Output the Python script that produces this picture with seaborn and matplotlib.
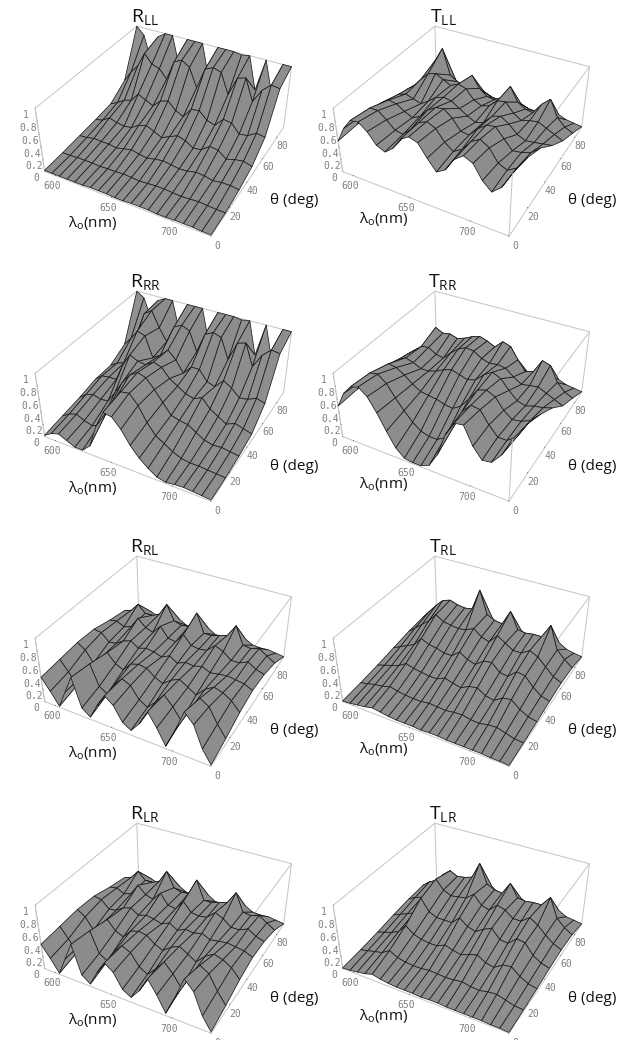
import matplotlib
matplotlib.use("Agg")
import matplotlib.pyplot as plt
import seaborn as sns
import numpy as np
from matplotlib.colors import LightSource

# =========================
# Data (percent)
# rows: theta, columns: wavelength
# =========================
wavelength = [590, 597, 604, 611, 618, 625, 632, 639, 646, 653, 660,
              667, 674, 681, 688, 695, 702, 709, 716, 723, 730]
theta = [0, 15, 30, 45, 60, 75, 90]

R_LL = [[2,2,2,2,2,2,3,3,3,2,2,3,3,3,2,2,3,3,3,2,2],
        [3,3,4,4,4,3,4,4,5,4,3,4,5,5,4,3,4,5,4,3,3],
        [5,6,9,8,8,6,9,12,9,7,10,12,10,8,9,12,11,8,10,10,8],
        [7,10,18,14,12,14,22,26,20,14,20,26,22,14,16,26,24,14,18,20,16],
        [10,16,24,28,42,36,30,42,46,34,28,44,46,34,30,44,42,28,30,38,36],
        [28,46,60,84,70,66,52,84,90,82,52,86,92,88,56,86,90,56,78,90,88],
        [100,88,46,92,100,100,48,100,100,100,44,100,100,100,98,100,48,100,52,100,100]]

R_RR = [[2,10,14,8,2,2,14,50,76,74,60,40,25,14,5,2,4,5,4,3,2],
        [6,14,18,12,8,14,38,60,80,82,68,46,30,22,14,8,6,6,5,4,3],
        [10,20,24,20,22,40,60,76,84,80,66,50,34,30,28,20,12,9,10,8,6],
        [16,26,28,28,56,76,70,68,76,72,58,50,42,38,44,30,22,14,20,16,12],
        [16,24,28,50,88,84,52,60,72,60,42,56,56,40,36,50,42,30,32,38,34],
        [30,44,60,92,100,76,56,84,90,84,54,86,92,88,56,86,90,56,78,90,88],
        [100,92,60,94,100,100,50,100,100,100,46,100,100,100,98,100,48,100,52,100,100]]

R_RL = [[40,22,2,30,58,14,4,28,48,38,16,8,24,48,28,4,34,68,54,22,2],
        [42,26,8,30,52,20,12,32,46,40,22,14,28,44,30,12,36,58,50,28,10],
        [44,36,18,30,44,30,24,38,42,40,30,24,34,40,32,24,38,46,42,34,20],
        [42,40,28,30,38,42,34,38,36,32,38,30,36,34,38,32,34,36,34,32,26],
        [34,36,30,34,52,40,36,50,34,32,48,34,32,34,46,40,30,30,36,28,24],
        [28,32,46,34,34,40,60,36,32,34,60,30,30,34,38,58,30,28,32,24,16],
        [3,4,10,5,5,6,12,5,5,5,12,4,4,5,5,12,5,4,5,3,1]]

# looks the same as R_RL at this resolution
R_LR = R_RL

T_LL = [[50,74,90,92,82,66,60,70,88,96,92,74,58,66,86,96,90,70,58,70,95],
        [50,70,84,84,74,62,60,72,86,92,86,70,60,68,84,92,84,66,60,68,88],
        [46,64,72,70,62,56,62,76,84,86,76,60,58,72,82,84,70,56,58,62,74],
        [42,54,58,54,50,58,68,72,70,62,54,48,52,66,70,62,50,44,46,48,50],
        [36,46,60,72,76,70,64,70,66,52,46,50,62,64,50,42,46,48,42,36,30],
        [26,34,70,92,52,44,40,62,44,34,32,40,62,40,32,30,48,60,34,22,16],
        [4,5,12,14,8,6,5,10,6,5,4,6,10,5,4,4,8,10,5,3,1]]

T_RR = [[50,74,88,92,82,62,38,16,4,2,2,8,30,66,88,90,64,48,50,66,94],
        [50,70,84,86,76,58,42,28,18,14,14,22,44,72,86,84,66,52,52,62,86],
        [46,64,74,72,64,54,46,44,42,38,36,44,60,78,82,76,60,50,52,58,72],
        [42,54,60,56,50,50,54,60,64,60,56,60,72,80,74,60,48,44,48,50,54],
        [36,46,56,58,50,48,60,70,76,74,66,62,64,62,52,44,46,48,42,36,30],
        [26,36,66,60,62,58,62,68,72,68,62,74,70,52,36,40,62,58,34,22,16],
        [4,6,14,12,14,10,10,14,16,12,10,14,12,6,5,6,10,10,5,3,1]]

T_RL = [[1,2,4,6,9,7,5,4,4,4,3,4,4,3,3,3,3,3,2,2,1],
        [3,6,9,11,15,12,10,9,9,11,10,9,11,12,9,8,11,12,8,4,3],
        [6,10,14,18,26,22,20,18,18,24,20,17,24,26,18,15,24,26,15,8,5],
        [10,16,22,28,42,36,34,30,30,40,32,28,38,40,28,26,38,36,22,12,8],
        [14,24,34,44,58,50,48,46,48,54,44,40,54,46,38,38,46,40,28,16,10],
        [16,30,44,56,60,56,54,56,90,54,48,46,70,44,42,44,44,66,30,18,8],
        [2,5,8,10,12,10,10,12,24,10,8,8,16,8,7,7,8,14,6,3,1]]

T_LR = [[1,2,4,6,10,7,5,4,4,4,3,4,4,3,3,3,3,3,2,2,1],
        [3,6,9,12,20,13,10,9,9,11,10,9,10,12,9,8,11,12,8,4,3],
        [6,10,14,20,34,24,20,18,18,24,20,17,22,26,18,15,24,26,15,8,5],
        [10,15,20,26,54,36,30,30,30,42,32,28,36,42,28,26,38,36,20,12,8],
        [13,20,24,30,62,48,42,44,46,56,42,38,50,46,36,36,46,38,26,16,10],
        [14,24,30,44,54,48,50,54,80,50,44,42,62,42,40,42,42,58,28,16,8],
        [2,4,6,8,10,8,10,12,20,10,8,8,14,8,7,7,8,12,5,3,1]]

panels = [("LL", R_LL, T_LL), ("RR", R_RR, T_RR), ("RL", R_RL, T_RL), ("LR", R_LR, T_LR)]

# =========================
# Settings
# =========================
W, H = 617, 1040
ROW_OFFSET = [0, 265, 530, 797]
COL_OFFSET = [0, 298]
BOX_GREY = "#c4c4c4"
TICK_GREY = "#808080"

sns.set_theme(style="white")
plt.rcParams["font.family"] = ["Open Sans", "DejaVu Sans"]
plt.rcParams["mathtext.default"] = "regular"
surface_grey = sns.light_palette("#555555", 6)[2]

fig = plt.figure(figsize=(W / 100, H / 100), dpi=100)
X, Y = np.meshgrid(wavelength, theta)
light = LightSource(azdeg=265, altdeg=25)


def px_text(x, y, s, size, **kw):
    fig.text(x / W, 1 - y / H, s, fontsize=size, ha="center", va="center", color="#111", **kw)


def draw_panel(values, kind, label, dx, dy):
    side = 330
    cx, cy = 165 + dx, 123 + dy
    ax = fig.add_axes([(cx - side / 2) / W, 1 - (cy + side / 2) / H, side / W, side / H],
                      projection="3d", computed_zorder=False)
    ax.patch.set_alpha(0)
    ax.view_init(elev=36, azim=-61.5)
    ax.set_proj_type("persp", focal_length=0.36)
    ax.set_box_aspect((1.0, 1.0, 0.42), zoom=0.79)
    ax.set_xlim(wavelength[0], wavelength[-1])
    ax.set_ylim(0, 90)
    ax.set_zlim(0, 1)
    ax.grid(False)

    for axis in (ax.xaxis, ax.yaxis, ax.zaxis):
        axis.set_pane_color((1, 1, 1, 0))
        axis.pane.set_edgecolor(BOX_GREY)
        axis.line.set_color(BOX_GREY)
        axis.line.set_linewidth(0.7)
        axis._axinfo["tick"]["color"] = BOX_GREY
        axis._axinfo["tick"]["linewidth"] = {True: 0.4, False: 0.3}
        axis._axinfo["tick"]["inward_factor"] = 0.0
        axis._axinfo["tick"]["outward_factor"] = 0.05
    ax.zaxis.set_ticks_position("lower")
    ax.set_xticks([600, 650, 700])
    ax.set_yticks([0, 20, 40, 60, 80])
    ax.set_zticks([0, 0.2, 0.4, 0.6, 0.8, 1])
    ax.set_zticklabels(["0", "0.2", "0.4", "0.6", "0.8", "1"])
    ax.tick_params(labelsize=7, labelcolor=TICK_GREY, pad=-4)
    for t in ax.get_xticklabels() + ax.get_yticklabels() + ax.get_zticklabels():
        t.set_family("DejaVu Sans Mono")

    x0, x1 = wavelength[0], wavelength[-1]
    # outline of the box behind the surface
    for xs, ys, zs in [([x0, x0], [90, 90], [0, 1]), ([x0, x1], [90, 90], [1, 1]),
                       ([x0, x0], [0, 90], [1, 1]), ([x1, x1], [0, 90], [1, 1]),
                       ([x0, x0], [0, 0], [0, 1]), ([x1, x1], [90, 90], [0, 1])]:
        ax.plot(xs, ys, zs, color=BOX_GREY, lw=0.7, zorder=1)

    Z = np.array(values) / 100
    ax.plot_surface(X, Y, Z, rstride=1, cstride=1, color=surface_grey, edgecolor="#1c1c1c",
                    linewidth=0.55, shade=True, lightsource=light, antialiased=True, zorder=2)
    # front corner only shows below the surface
    ax.plot([x1, x1], [0, 0], [0, Z[0][-1]], color=BOX_GREY, lw=0.7, zorder=3)

    px_text(145 + dx, 17 + dy, f"{kind}$_{{{label}}}$", 14)
    px_text((93 if kind == "R" else 86) + dx, (223 if kind == "R" else 219) + dy, "λ$_o$(nm)", 11)
    px_text(294 + dx, 201 + dy, "θ (deg)", 11)


for row, (label, refl, trans) in enumerate(panels):
    draw_panel(refl, "R", label, COL_OFFSET[0], ROW_OFFSET[row])
    draw_panel(trans, "T", label, COL_OFFSET[1], ROW_OFFSET[row])

fig.savefig("out.png", dpi=100, facecolor="white")
